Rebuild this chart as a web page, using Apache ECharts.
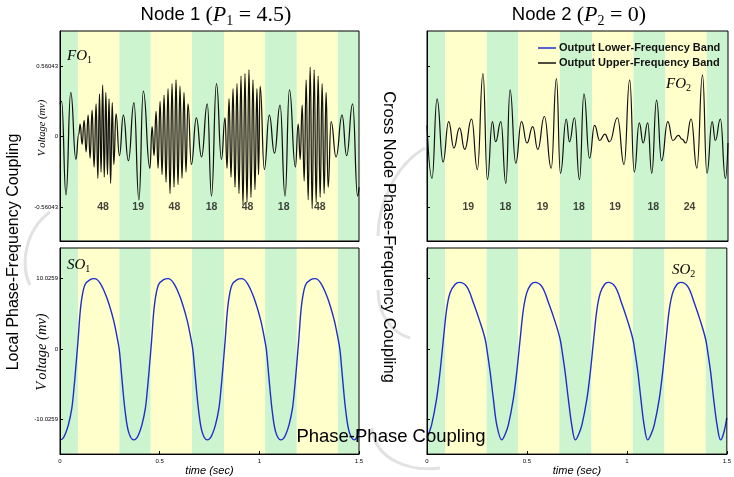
<!DOCTYPE html>
<html><head><meta charset="utf-8">
<script src="https://cdn.jsdelivr.net/npm/echarts@6/dist/echarts.min.js"></script>
<style>html,body{margin:0;padding:0;background:#fff}#c{width:734px;height:477px}</style>
</head><body><div id="c"></div>
<script>
// ---- data ----
const bandEdges = [0, 0.09, 0.298, 0.455, 0.662, 0.823, 1.029, 1.188, 1.394, 1.5];
const bandKinds = ['g','y','g','y','g','y','g','y','g'];

// FO1 : Node 1 upper-frequency band output [time, mV]
const fo1 = [
[0.000,0.26],[0.008,0.28],[0.030,-0.46],[0.054,0.35],[0.080,-0.18],
[0.094,0.02],[0.101,0.10],[0.111,-0.06],[0.121,0.13],[0.131,-0.12],[0.141,0.17],[0.151,-0.17],[0.161,0.21],[0.171,-0.24],[0.181,0.26],[0.190,-0.33],[0.198,0.34],[0.206,-0.28],[0.214,0.41],[0.222,-0.32],[0.230,0.35],[0.238,-0.30],[0.246,0.30],[0.254,-0.37],[0.262,0.27],[0.270,-0.22],[0.281,0.18],[0.298,-0.15],
[0.318,0.17],[0.343,-0.19],[0.371,0.27],[0.396,-0.50],[0.418,0.36],[0.451,-0.25],
[0.462,0.08],[0.472,-0.15],[0.482,0.20],[0.492,-0.25],[0.502,0.28],[0.512,-0.30],[0.522,0.33],[0.532,-0.36],[0.542,0.38],[0.552,-0.45],[0.562,0.42],[0.572,-0.40],[0.582,0.45],[0.592,-0.38],[0.602,0.40],[0.612,-0.33],[0.622,0.35],[0.632,-0.28],[0.642,0.26],[0.659,-0.22],
[0.684,0.15],[0.710,-0.16],[0.739,0.26],[0.760,-0.47],[0.785,0.42],[0.810,-0.18],
[0.828,0.15],[0.838,-0.25],[0.848,0.30],[0.858,-0.32],[0.868,0.38],[0.878,-0.40],[0.888,0.42],[0.898,-0.45],[0.908,0.48],[0.918,-0.54],[0.928,0.50],[0.938,-0.52],[0.948,0.53],[0.958,-0.48],[0.968,0.45],[0.978,-0.42],[0.988,0.38],[0.996,-0.30],[1.004,0.40],[1.025,-0.26],
[1.050,0.17],[1.076,-0.13],[1.104,0.25],[1.129,-0.47],[1.151,0.37],[1.181,-0.24],
[1.195,0.10],[1.205,-0.18],[1.215,0.25],[1.225,-0.35],[1.235,0.45],[1.245,-0.50],[1.255,0.55],[1.265,-0.57],[1.275,0.53],[1.285,-0.52],[1.295,0.48],[1.305,-0.48],[1.315,0.42],[1.325,-0.45],[1.335,0.35],[1.345,-0.40],[1.360,0.12],[1.385,-0.16],
[1.415,0.17],[1.438,-0.15],[1.468,0.26],[1.493,-0.47],[1.500,-0.40]
];

// FO2 : Node 2 upper-frequency band output
const fo2 = [
[0.000,0.09],[0.025,-0.33],[0.050,0.30],[0.080,-0.20],[0.108,0.12],[0.134,-0.09],[0.162,0.07],[0.188,-0.10],[0.222,0.14],[0.251,-0.26],[0.279,0.50],[0.301,-0.34],
[0.326,0.12],[0.342,-0.04],[0.368,0.12],[0.393,-0.37],[0.414,0.37],[0.442,-0.21],[0.471,0.12],[0.498,-0.05],[0.527,0.08],[0.552,-0.10],[0.585,0.16],[0.619,-0.25],[0.645,0.46],[0.665,-0.29],
[0.694,0.14],[0.710,-0.04],[0.735,0.15],[0.760,-0.34],[0.782,0.34],[0.810,-0.17],[0.835,0.09],[0.861,-0.03],[0.886,0.02],[0.910,-0.04],[0.949,0.15],[0.982,-0.22],[1.010,0.45],[1.033,-0.28],
[1.058,0.11],[1.077,-0.05],[1.100,0.11],[1.120,-0.29],[1.144,0.29],[1.169,-0.19],[1.200,0.12],[1.225,-0.03],[1.253,0.01],[1.271,-0.02],[1.290,-0.05],[1.316,0.14],[1.345,-0.25],[1.373,0.49],[1.395,-0.29],
[1.421,0.12],[1.437,-0.03],[1.462,0.14],[1.487,-0.33],[1.500,-0.05]
];

// SO1 : Node 1 lower-frequency band output
const so1 = [
[0.000,-12.95],[0.012,-12.8],[0.025,-12.2],[0.042,-10.8],[0.059,-8.5],[0.070,-5.6],[0.080,-2.4],[0.091,1.4],[0.101,5.2],[0.111,7.5],[0.126,9.2],[0.151,9.9],[0.173,10.03],[0.201,9.4],[0.235,7.3],[0.268,4.2],[0.285,1.9],[0.297,0],[0.305,-2.4],[0.315,-5.6],[0.327,-8.9],[0.344,-11.8],[0.369,-12.95],
[0.381,-12.8],[0.394,-12.2],[0.411,-10.8],[0.428,-8.5],[0.439,-5.6],[0.449,-2.4],[0.460,1.4],[0.470,5.2],[0.480,7.5],[0.495,9.2],[0.520,9.9],[0.542,10.03],[0.570,9.4],[0.604,7.3],[0.637,4.2],[0.654,1.9],[0.666,0],[0.674,-2.4],[0.684,-5.6],[0.696,-8.9],[0.713,-11.8],[0.738,-12.95],
[0.750,-12.8],[0.763,-12.2],[0.780,-10.8],[0.797,-8.5],[0.808,-5.6],[0.818,-2.4],[0.829,1.4],[0.839,5.2],[0.849,7.5],[0.864,9.2],[0.889,9.9],[0.911,10.03],[0.939,9.4],[0.973,7.3],[1.006,4.2],[1.023,1.9],[1.035,0],[1.043,-2.4],[1.053,-5.6],[1.065,-8.9],[1.082,-11.8],[1.107,-12.95],
[1.119,-12.8],[1.132,-12.2],[1.149,-10.8],[1.166,-8.5],[1.177,-5.6],[1.187,-2.4],[1.198,1.4],[1.208,5.2],[1.218,7.5],[1.233,9.2],[1.258,9.9],[1.280,10.03],[1.308,9.4],[1.342,7.3],[1.375,4.2],[1.392,1.9],[1.404,0],[1.412,-2.4],[1.422,-5.6],[1.434,-8.9],[1.451,-11.8],[1.476,-12.95],[1.488,-12.6],[1.500,-11.5]
];

// SO2 : Node 2 lower-frequency band output
const so2 = [
[0.000,-12.5],[0.006,-12.2],[0.023,-10.8],[0.048,-7.1],[0.065,-3.3],[0.082,1.4],[0.098,5.6],[0.115,8.0],[0.140,9.2],[0.162,9.5],[0.199,8.9],[0.232,6.6],[0.266,3.8],[0.291,1.4],[0.302,-0.5],[0.316,-3.3],[0.332,-7.1],[0.349,-10.8],[0.374,-12.95],
[0.390,-12.2],[0.407,-10.8],[0.432,-7.1],[0.449,-3.3],[0.466,1.4],[0.482,5.6],[0.499,8.0],[0.520,9.2],[0.540,9.5],[0.575,8.9],[0.608,6.6],[0.642,3.8],[0.666,1.4],[0.677,-0.5],[0.691,-3.3],[0.707,-7.1],[0.724,-10.8],[0.742,-12.95],
[0.758,-12.2],[0.775,-10.8],[0.800,-7.1],[0.817,-3.3],[0.834,1.4],[0.850,5.6],[0.867,8.0],[0.888,9.2],[0.906,9.5],[0.941,8.9],[0.973,6.6],[1.006,3.8],[1.030,1.4],[1.041,-0.5],[1.055,-3.3],[1.070,-7.1],[1.086,-10.8],[1.104,-12.95],
[1.120,-12.2],[1.137,-10.8],[1.162,-7.1],[1.179,-3.3],[1.196,1.4],[1.212,5.6],[1.229,8.0],[1.250,9.2],[1.270,9.5],[1.305,8.9],[1.337,6.6],[1.370,3.8],[1.394,1.4],[1.405,-0.5],[1.419,-3.3],[1.434,-7.1],[1.451,-10.8],[1.469,-12.95],[1.484,-12.0],[1.500,-9.8]
];

const node1Counts = ['48','19','48','18','48','18','48'];
const node1CountT = [0.216,0.392,0.574,0.760,0.941,1.122,1.303];
const node2Counts = ['19','18','19','18','19','18','24'];
const node2CountT = [0.206,0.391,0.576,0.757,0.937,1.128,1.308];
const countLevel = -0.56043;

const foTicks = [-0.56043, 0, 0.56043];
const soTicks = [-10.0259, 0, 10.0259];
const foRange = [-0.826, 0.837];
const soRange = [-14.97, 14.40];
const timeRange = [0, 1.5];

const lowName = 'Output Lower-Frequency Band';
const upName = 'Output Upper-Frequency Band';

// ---- styles ----
const bandColor = {g:'#ccf5cf', y:'#ffffcc'};
const foColor = '#111';
const soColor = '#1f2ecb';
const chart = echarts.init(document.getElementById('c'), null, {renderer:'canvas'});

const bands = bandEdges.slice(0,-1).map((s,i)=>[
  {xAxis:s, itemStyle:{color:bandColor[bandKinds[i]]}},
  {xAxis:bandEdges[i+1]}
]);

const grids = [
  {left:60, top:31, width:299, height:210},
  {left:60, top:248, width:299, height:208},
  {left:427, top:31, width:301, height:210},
  {left:427, top:248, width:301, height:208}
].map(g=>Object.assign(g,{show:true, borderColor:'#000', borderWidth:1, backgroundColor:'transparent', z:10}));

function xAx(i, bottom){
  return {
    gridIndex:i, type:'value', min:timeRange[0], max:timeRange[1], interval:0.5, z:20,
    axisLine:{show:true, onZero:false, lineStyle:{color:'#000', width:1}},
    axisTick:{show:bottom, inside:true, length:3, lineStyle:{color:'#000'}},
    axisLabel:{show:bottom, fontSize:6, color:'#000', margin:4, fontFamily:'Liberation Sans'},
    splitLine:{show:false},
    name: bottom ? 'time (sec)' : '', nameLocation:'middle', nameGap:10,
    nameTextStyle:{fontSize:11, fontStyle:'italic', color:'#000', fontFamily:'Liberation Sans'}
  };
}
function yAx(i, range, ticks, labels){
  return {
    gridIndex:i, type:'value', min:range[0], max:range[1], z:20,
    axisLine:{show:true, onZero:false, lineStyle:{color:'#000'}},
    axisTick:{show:true, inside:true, length:3, customValues:ticks, lineStyle:{color:'#000'}},
    axisLabel:{show:labels, customValues:ticks, fontSize:6, color:'#000', margin:2, fontFamily:'Liberation Sans'},
    splitLine:{show:false}
  };
}

function lineSeries(name, data, xi, color, width, mono){
  return {
    type:'line', name, data, xAxisIndex:xi, yAxisIndex:xi,
    symbol:'none', smooth:mono ? 0.5 : 0.35, smoothMonotone:mono ? 'x' : undefined,
    lineStyle:{color, width}, itemStyle:{color},
    animation:false, silent:true, z:3,
    markArea:{silent:true, data:bands}
  };
}
function countSeries(labels, times, xi){
  return {
    type:'scatter', xAxisIndex:xi, yAxisIndex:xi, symbolSize:0.1, silent:true, z:5,
    data: times.map((t,i)=>[t, countLevel, labels[i]]),
    label:{show:true, position:'inside', formatter:p=>p.data[2],
      fontSize:10.5, fontWeight:'bold', color:'#111', fontFamily:'Liberation Sans'},
    itemStyle:{color:'transparent'}, animation:false
  };
}

const serif = 'Liberation Serif';
const sans = 'Liberation Sans';
function titleText(x, y, node, sub, val){
  return {
    type:'text', x, y, z:50,
    style:{
      text:`{n|Node ${node} }{m|(}{i|P}{s|${sub}}{m| = ${val})}`,
      align:'center', verticalAlign:'middle',
      rich:{
        n:{fontFamily:sans, fontSize:18.5, lineHeight:26, verticalAlign:'middle', fill:'#000'},
        m:{fontFamily:serif, fontSize:22, lineHeight:26, verticalAlign:'middle', fill:'#000'},
        i:{fontFamily:serif, fontStyle:'italic', fontSize:22, lineHeight:26, verticalAlign:'middle', fill:'#000'},
        s:{fontFamily:serif, fontSize:14, lineHeight:26, verticalAlign:'bottom', fill:'#000'}
      }
    }
  };
}
function symText(x, y, main, sub){
  return {
    type:'text', x, y, z:50,
    style:{
      text:`{i|${main}}{s|${sub}}`, align:'left', verticalAlign:'middle',
      rich:{
        i:{fontFamily:serif, fontStyle:'italic', fontSize:15, lineHeight:18, verticalAlign:'middle', fill:'#000'},
        s:{fontFamily:serif, fontSize:10, lineHeight:18, verticalAlign:'bottom', fill:'#000'}
      }
    }
  };
}
function vText(x, y, size){
  return {
    type:'text', x, y, rotation:Math.PI/2, z:50,
    style:{
      text:`{v|V}{o|oltage (mv)}`, align:'center', verticalAlign:'middle',
      rich:{
        v:{fontFamily:serif, fontStyle:'italic', fontSize:size, fill:'#000'},
        o:{fontFamily:serif, fontStyle:'italic', fontSize:size, fill:'#000', padding:[0,0,0,2]}
      }
    }
  };
}
function arc(shape){
  return {type:'bezierCurve', z:40, silent:true, shape,
    style:{stroke:'#e2e2e2', lineWidth:3, fill:null}};
}

const option = {
  backgroundColor:'#fff',
  animation:false,
  grid: grids,
  xAxis:[xAx(0,false), xAx(1,true), xAx(2,false), xAx(3,true)],
  yAxis:[yAx(0,foRange,foTicks,true), yAx(1,soRange,soTicks,true), yAx(2,foRange,foTicks,false), yAx(3,soRange,soTicks,false)],
  legend:{
    orient:'vertical', left:533, top:37, itemWidth:18, itemHeight:1.5, itemGap:3,
    icon:'rect', data:[lowName, upName], selectedMode:false,
    textStyle:{fontSize:11, lineHeight:12, fontWeight:'bold', color:'#111', fontFamily:sans, padding:[0,0,0,-2]}
  },
  series:[
    lineSeries(upName, fo1, 0, foColor, 1.25, true),
    lineSeries(lowName, so1, 1, soColor, 1.4, false),
    lineSeries(upName, fo2, 2, foColor, 1.2, true),
    lineSeries(lowName, so2, 3, soColor, 1.4, false),
    countSeries(node1Counts, node1CountT, 0),
    countSeries(node2Counts, node2CountT, 2)
  ],
  graphic:[
    arc({x1:50,y1:212,x2:30,y2:285,cpx1:25,cpy1:230,cpx2:20,cpy2:265}),
    arc({x1:425,y1:148,x2:378,y2:236,cpx1:395,cpy1:165,cpx2:378,cpy2:205}),
    arc({x1:378,y1:290,x2:410,y2:338,cpx1:378,cpy1:315,cpx2:392,cpy2:333}),
    arc({x1:372,y1:428,x2:440,y2:468,cpx1:375,cpy1:460,cpx2:410,cpy2:472}),
    titleText(216, 15, 1, '1', '4.5'),
    titleText(579, 15, 2, '2', '0'),
    symText(67, 56, 'FO', '1'),
    symText(666, 84, 'FO', '2'),
    symText(67, 265, 'SO', '1'),
    symText(672, 270, 'SO', '2'),
    vText(42, 128, 10.5),
    vText(42, 352, 14.5),
    {type:'text', x:14, y:252, rotation:Math.PI/2, z:60,
      style:{text:'Local Phase-Frequency Coupling', font:'16px "Liberation Sans"', fill:'#000', align:'center', verticalAlign:'middle'}},
    {type:'text', x:389, y:237, rotation:-Math.PI/2, z:60,
      style:{text:'Cross Node Phase-Frequency Coupling', font:'16.5px "Liberation Sans"', fill:'#000', align:'center', verticalAlign:'middle'}},
    {type:'text', x:391, y:437, z:60,
      style:{text:'Phase-Phase Coupling', font:'18.5px "Liberation Sans"', fill:'#000', align:'center', verticalAlign:'middle'}}
  ]
};
chart.setOption(option);
</script></body></html>
